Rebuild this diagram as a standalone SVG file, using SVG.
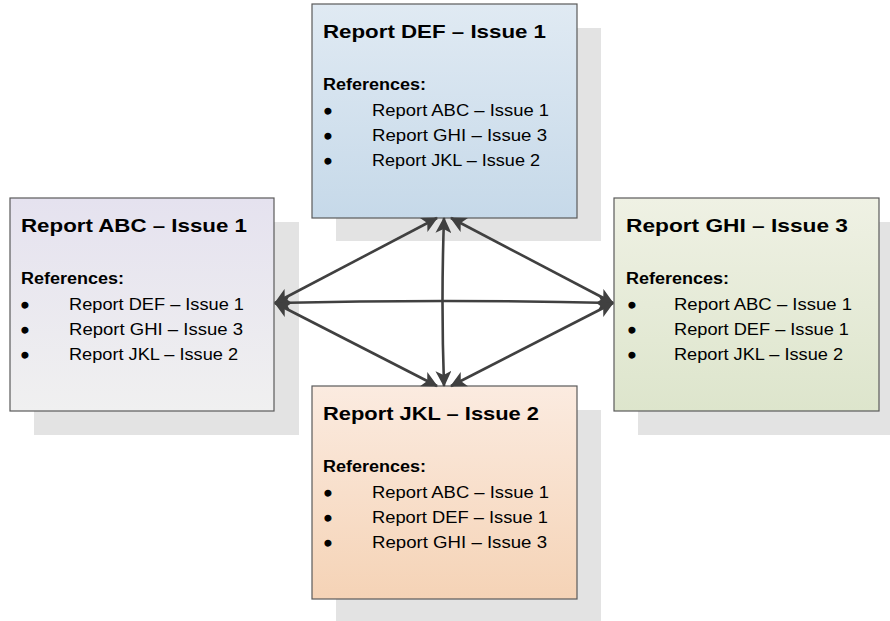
<svg xmlns="http://www.w3.org/2000/svg" width="890" height="621" viewBox="0 0 890 621">
  <defs>
    <linearGradient id="gDef" x1="0" y1="0" x2="0" y2="1">
      <stop offset="0" stop-color="#e0eaf3"/>
      <stop offset="1" stop-color="#c6d9e9"/>
    </linearGradient>
    <linearGradient id="gAbc" x1="0" y1="0" x2="0" y2="1">
      <stop offset="0" stop-color="#e5e2ef"/>
      <stop offset="1" stop-color="#f0f0f0"/>
    </linearGradient>
    <linearGradient id="gGhi" x1="0" y1="0" x2="0" y2="1">
      <stop offset="0" stop-color="#eff1e4"/>
      <stop offset="1" stop-color="#dde5cc"/>
    </linearGradient>
    <linearGradient id="gJkl" x1="0" y1="0" x2="0" y2="1">
      <stop offset="0" stop-color="#fbebe0"/>
      <stop offset="1" stop-color="#f5d3b6"/>
    </linearGradient>
    <marker id="head" viewBox="0 0 16 16" refX="15" refY="8" markerWidth="16" markerHeight="16" markerUnits="userSpaceOnUse" orient="auto-start-reverse">
      <path d="M0,0 L16,8 L0,16 L4,8 Z" fill="#404040"/>
    </marker>
    <style>
      .shadow { fill: #e3e3e3; }
      .box { stroke: #5a5a5a; stroke-width: 1.2; }
      text { font-family: "Liberation Sans", Arial, sans-serif; fill: #000; }
      .title { font-size: 18.6px; font-weight: bold; }
      .refs { font-size: 16px; font-weight: bold; }
      .item { font-size: 15.6px; }
      .dot { font-size: 21px; stroke: #000; stroke-width: 1.3; }
      .wire { fill: none; stroke: #404040; stroke-width: 2.6; marker-start: url(#head); marker-end: url(#head); }
    </style>
  </defs>

  <g id="shadows">
    <rect class="shadow" x="336" y="28" width="265" height="213"/>
    <rect class="shadow" x="34" y="222" width="265" height="213"/>
    <rect class="shadow" x="638" y="222" width="265" height="213"/>
    <rect class="shadow" x="336" y="410" width="265" height="213"/>
  </g>

  <g id="node-def">
    <rect class="box" x="312" y="4" width="265" height="214" fill="url(#gDef)"/>
    <text class="title" x="323" y="38" textLength="223" lengthAdjust="spacingAndGlyphs">Report DEF – Issue 1</text>
    <text class="refs" x="323" y="90" textLength="103" lengthAdjust="spacingAndGlyphs">References:</text>
    <text class="dot" x="324.3" y="118">•</text>
    <text class="item" x="372" y="116" textLength="177" lengthAdjust="spacingAndGlyphs">Report ABC – Issue 1</text>
    <text class="dot" x="324.3" y="143">•</text>
    <text class="item" x="372" y="141" textLength="175" lengthAdjust="spacingAndGlyphs">Report GHI – Issue 3</text>
    <text class="dot" x="324.3" y="168">•</text>
    <text class="item" x="372" y="166" textLength="168" lengthAdjust="spacingAndGlyphs">Report JKL – Issue 2</text>
  </g>

  <g id="node-abc">
    <rect class="box" x="10" y="198" width="264" height="213" fill="url(#gAbc)"/>
    <text class="title" x="21" y="232" textLength="226" lengthAdjust="spacingAndGlyphs">Report ABC – Issue 1</text>
    <text class="refs" x="21" y="284" textLength="103" lengthAdjust="spacingAndGlyphs">References:</text>
    <text class="dot" x="21.3" y="312">•</text>
    <text class="item" x="69" y="310" textLength="175" lengthAdjust="spacingAndGlyphs">Report DEF – Issue 1</text>
    <text class="dot" x="21.3" y="337">•</text>
    <text class="item" x="69" y="335" textLength="174" lengthAdjust="spacingAndGlyphs">Report GHI – Issue 3</text>
    <text class="dot" x="21.3" y="362">•</text>
    <text class="item" x="69" y="360" textLength="169" lengthAdjust="spacingAndGlyphs">Report JKL – Issue 2</text>
  </g>

  <g id="node-ghi">
    <rect class="box" x="614" y="198" width="265" height="213" fill="url(#gGhi)"/>
    <text class="title" x="626" y="232" textLength="222" lengthAdjust="spacingAndGlyphs">Report GHI – Issue 3</text>
    <text class="refs" x="626" y="284" textLength="103" lengthAdjust="spacingAndGlyphs">References:</text>
    <text class="dot" x="628.3" y="312">•</text>
    <text class="item" x="674" y="310" textLength="178" lengthAdjust="spacingAndGlyphs">Report ABC – Issue 1</text>
    <text class="dot" x="628.3" y="337">•</text>
    <text class="item" x="674" y="335" textLength="175" lengthAdjust="spacingAndGlyphs">Report DEF – Issue 1</text>
    <text class="dot" x="628.3" y="362">•</text>
    <text class="item" x="674" y="360" textLength="169" lengthAdjust="spacingAndGlyphs">Report JKL – Issue 2</text>
  </g>

  <g id="node-jkl">
    <rect class="box" x="312" y="386" width="265" height="213" fill="url(#gJkl)"/>
    <text class="title" x="323" y="420" textLength="216" lengthAdjust="spacingAndGlyphs">Report JKL – Issue 2</text>
    <text class="refs" x="323" y="472" textLength="103" lengthAdjust="spacingAndGlyphs">References:</text>
    <text class="dot" x="324.3" y="500">•</text>
    <text class="item" x="372" y="498" textLength="177" lengthAdjust="spacingAndGlyphs">Report ABC – Issue 1</text>
    <text class="dot" x="324.3" y="525">•</text>
    <text class="item" x="372" y="523" textLength="176" lengthAdjust="spacingAndGlyphs">Report DEF – Issue 1</text>
    <text class="dot" x="324.3" y="550">•</text>
    <text class="item" x="372" y="548" textLength="175" lengthAdjust="spacingAndGlyphs">Report GHI – Issue 3</text>
  </g>

  <g id="connectors">
    <path class="wire" d="M275,303 Q444,299 613,303"/>
    <path class="wire" d="M275,303 L437,218"/>
    <path class="wire" d="M613,303 L451,218"/>
    <path class="wire" d="M444,218 Q441,302 444,386"/>
    <path class="wire" d="M275,303 L437,386"/>
    <path class="wire" d="M613,303 L451,386"/>
  </g>
</svg>
